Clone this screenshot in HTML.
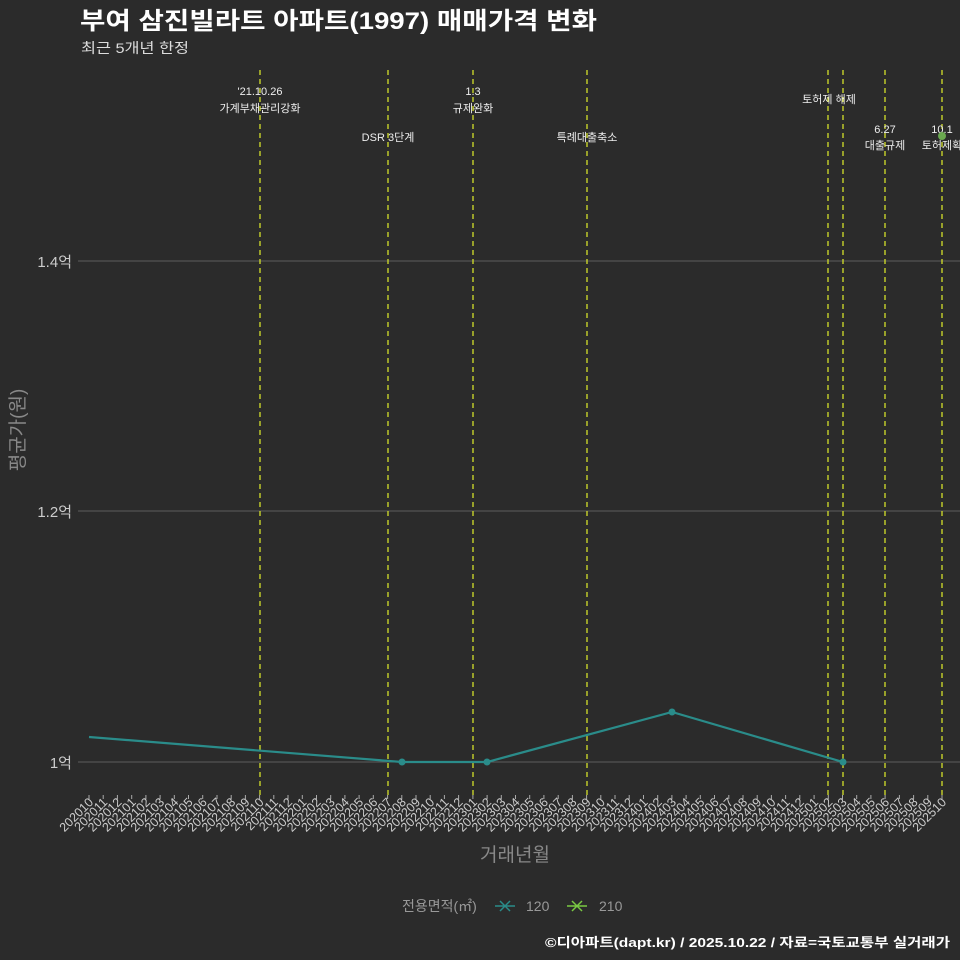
<!DOCTYPE html>
<html><head><meta charset="utf-8"><style>
body{margin:0;background:#2b2b2b;}
svg{display:block;font-family:"Liberation Sans","Noto Sans CJK KR",sans-serif;}
</style></head><body>
<svg width="960" height="960" viewBox="0 0 960 960" xmlns="http://www.w3.org/2000/svg">
<rect width="960" height="960" fill="#2b2b2b"/>
<text x="80" y="29" fill="#fff" font-size="24" font-weight="bold" textLength="517" lengthAdjust="spacingAndGlyphs">부여 삼진빌라트 아파트(1997) 매매가격 변화</text>
<text x="81" y="53" fill="#ddd" font-size="14" textLength="108" lengthAdjust="spacingAndGlyphs">최근 5개년 한정</text>
<g stroke="#5e5e5e" stroke-width="1">
<line x1="78" x2="960" y1="261" y2="261"/><line x1="78" x2="960" y1="511" y2="511"/><line x1="78" x2="960" y1="762" y2="762"/>
</g>
<g fill="#ccc" font-size="15" text-anchor="end">
<text x="72" y="267">1.4억</text><text x="72" y="517">1.2억</text><text x="72" y="768">1억</text>
</g>
<text transform="translate(24,430) rotate(-90)" fill="#888" font-size="19" text-anchor="middle">평균가(원)</text>
<g stroke="#d4e02a" stroke-width="1.3" stroke-dasharray="5,4">
<line x1="260" x2="260" y1="70" y2="795"/><line x1="388" x2="388" y1="70" y2="795"/><line x1="473" x2="473" y1="70" y2="795"/><line x1="587" x2="587" y1="70" y2="795"/><line x1="828" x2="828" y1="70" y2="795"/><line x1="843" x2="843" y1="70" y2="795"/><line x1="885" x2="885" y1="70" y2="795"/><line x1="942" x2="942" y1="70" y2="795"/>
</g>
<g fill="#eee" font-size="11" text-anchor="middle">
<text x="260" y="95">'21.10.26</text><text x="260" y="112">가계부채관리강화</text>
<text x="388" y="141">DSR 3단계</text>
<text x="473" y="95">1.3</text><text x="473" y="112">규제완화</text>
<text x="587" y="141">특례대출축소</text>
<text x="829" y="103">토허제 해제</text>
<text x="885" y="133">6.27</text><text x="885" y="149">대출규제</text>
<text x="942" y="133">10.1</text><text x="942" y="149">토허제확</text>
</g>
<polyline points="89,737 402,762 487,762 672,712 843,762" fill="none" stroke="#2a8c8a" stroke-width="2.2"/>
<g fill="#2a8c8a"><circle cx="402" cy="762" r="3.5"/><circle cx="487" cy="762" r="3.5"/><circle cx="672" cy="712" r="3.5"/><circle cx="843" cy="762" r="3.5"/></g>
<circle cx="942" cy="136" r="4" fill="#6aa84f"/>
<g stroke="#aaa" stroke-width="1">
<path d="M89 795v4M103.2 795v4M117.4 795v4M131.7 795v4M145.9 795v4M160.1 795v4M174.3 795v4M188.5 795v4M202.7 795v4M217 795v4M231.2 795v4M245.4 795v4M259.6 795v4M273.8 795v4M288 795v4M302.3 795v4M316.5 795v4M330.7 795v4M344.9 795v4M359.1 795v4M373.3 795v4M387.6 795v4M401.8 795v4M416 795v4M430.2 795v4M444.4 795v4M458.6 795v4M472.9 795v4M487.1 795v4M501.3 795v4M515.5 795v4M529.7 795v4M543.9 795v4M558.2 795v4M572.4 795v4M586.6 795v4M600.8 795v4M615 795v4M629.2 795v4M643.5 795v4M657.7 795v4M671.9 795v4M686.1 795v4M700.3 795v4M714.5 795v4M728.8 795v4M743 795v4M757.2 795v4M771.4 795v4M785.6 795v4M799.8 795v4M814.1 795v4M828.3 795v4M842.5 795v4M856.7 795v4M870.9 795v4M885.1 795v4M899.4 795v4M913.6 795v4M927.8 795v4M942 795v4"/>
</g>
<g fill="#ccc" font-size="12.5" text-anchor="end">
<text transform="translate(94,803) rotate(-45)">202010</text>
<text transform="translate(108.2,803) rotate(-45)">202011</text>
<text transform="translate(122.4,803) rotate(-45)">202012</text>
<text transform="translate(136.7,803) rotate(-45)">202101</text>
<text transform="translate(150.9,803) rotate(-45)">202102</text>
<text transform="translate(165.1,803) rotate(-45)">202103</text>
<text transform="translate(179.3,803) rotate(-45)">202104</text>
<text transform="translate(193.5,803) rotate(-45)">202105</text>
<text transform="translate(207.7,803) rotate(-45)">202106</text>
<text transform="translate(222,803) rotate(-45)">202107</text>
<text transform="translate(236.2,803) rotate(-45)">202108</text>
<text transform="translate(250.4,803) rotate(-45)">202109</text>
<text transform="translate(264.6,803) rotate(-45)">202110</text>
<text transform="translate(278.8,803) rotate(-45)">202111</text>
<text transform="translate(293,803) rotate(-45)">202112</text>
<text transform="translate(307.3,803) rotate(-45)">202201</text>
<text transform="translate(321.5,803) rotate(-45)">202202</text>
<text transform="translate(335.7,803) rotate(-45)">202203</text>
<text transform="translate(349.9,803) rotate(-45)">202204</text>
<text transform="translate(364.1,803) rotate(-45)">202205</text>
<text transform="translate(378.3,803) rotate(-45)">202206</text>
<text transform="translate(392.6,803) rotate(-45)">202207</text>
<text transform="translate(406.8,803) rotate(-45)">202208</text>
<text transform="translate(421,803) rotate(-45)">202209</text>
<text transform="translate(435.2,803) rotate(-45)">202210</text>
<text transform="translate(449.4,803) rotate(-45)">202211</text>
<text transform="translate(463.6,803) rotate(-45)">202212</text>
<text transform="translate(477.9,803) rotate(-45)">202301</text>
<text transform="translate(492.1,803) rotate(-45)">202302</text>
<text transform="translate(506.3,803) rotate(-45)">202303</text>
<text transform="translate(520.5,803) rotate(-45)">202304</text>
<text transform="translate(534.7,803) rotate(-45)">202305</text>
<text transform="translate(548.9,803) rotate(-45)">202306</text>
<text transform="translate(563.2,803) rotate(-45)">202307</text>
<text transform="translate(577.4,803) rotate(-45)">202308</text>
<text transform="translate(591.6,803) rotate(-45)">202309</text>
<text transform="translate(605.8,803) rotate(-45)">202310</text>
<text transform="translate(620,803) rotate(-45)">202311</text>
<text transform="translate(634.2,803) rotate(-45)">202312</text>
<text transform="translate(648.5,803) rotate(-45)">202401</text>
<text transform="translate(662.7,803) rotate(-45)">202402</text>
<text transform="translate(676.9,803) rotate(-45)">202403</text>
<text transform="translate(691.1,803) rotate(-45)">202404</text>
<text transform="translate(705.3,803) rotate(-45)">202405</text>
<text transform="translate(719.5,803) rotate(-45)">202406</text>
<text transform="translate(733.8,803) rotate(-45)">202407</text>
<text transform="translate(748,803) rotate(-45)">202408</text>
<text transform="translate(762.2,803) rotate(-45)">202409</text>
<text transform="translate(776.4,803) rotate(-45)">202410</text>
<text transform="translate(790.6,803) rotate(-45)">202411</text>
<text transform="translate(804.8,803) rotate(-45)">202412</text>
<text transform="translate(819.1,803) rotate(-45)">202501</text>
<text transform="translate(833.3,803) rotate(-45)">202502</text>
<text transform="translate(847.5,803) rotate(-45)">202503</text>
<text transform="translate(861.7,803) rotate(-45)">202504</text>
<text transform="translate(875.9,803) rotate(-45)">202505</text>
<text transform="translate(890.1,803) rotate(-45)">202506</text>
<text transform="translate(904.4,803) rotate(-45)">202507</text>
<text transform="translate(918.6,803) rotate(-45)">202508</text>
<text transform="translate(932.8,803) rotate(-45)">202509</text>
<text transform="translate(947,803) rotate(-45)">202510</text>
</g>
<text x="515" y="861" fill="#888" font-size="19" text-anchor="middle">거래년월</text>
<text x="402" y="911" fill="#999" font-size="14">전용면적(㎡)</text>
<g stroke-width="1.5">
<line x1="495" x2="515" y1="906" y2="906" stroke="#2a8c8a"/><path d="M500 901l10 10M510 901l-10 10" stroke="#2a8c8a"/>
<line x1="567" x2="587" y1="906" y2="906" stroke="#7ac943"/><path d="M572 901l10 10M582 901l-10 10" stroke="#7ac943"/>
</g>
<text x="526" y="911" fill="#999" font-size="14">120</text>
<text x="599" y="911" fill="#999" font-size="14">210</text>
<text x="950" y="947" fill="#fff" font-size="13" font-weight="bold" text-anchor="end" textLength="405" lengthAdjust="spacingAndGlyphs">©디아파트(dapt.kr) / 2025.10.22 / 자료=국토교통부 실거래가</text>
</svg>
</body></html>
